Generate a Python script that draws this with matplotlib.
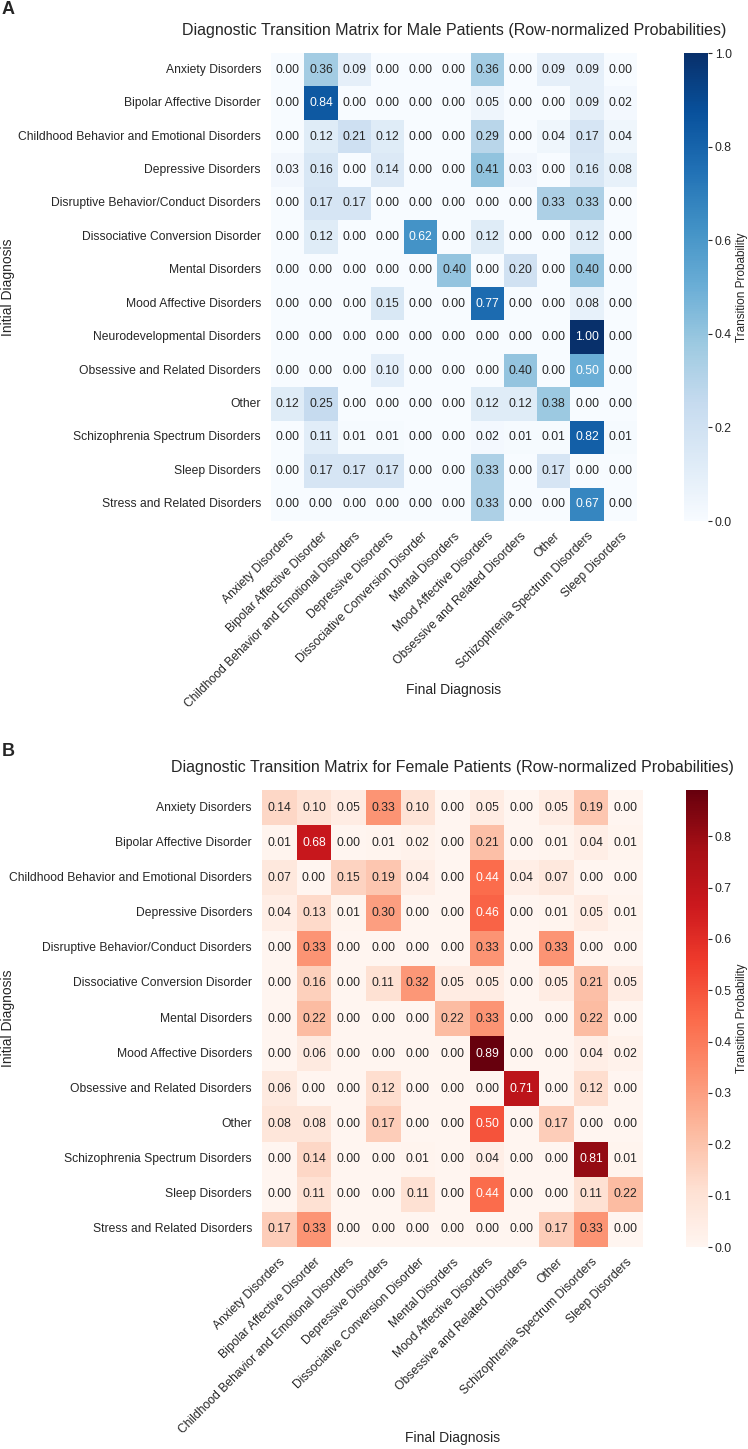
import numpy as np
import matplotlib
matplotlib.use("Agg")
import matplotlib.pyplot as plt
import seaborn as sns

final_labels = ["Anxiety Disorders", "Bipolar Affective Disorder",
                "Childhood Behavior and Emotional Disorders", "Depressive Disorders",
                "Dissociative Conversion Disorder", "Mental Disorders",
                "Mood Affective Disorders", "Obsessive and Related Disorders",
                "Other", "Schizophrenia Spectrum Disorders", "Sleep Disorders"]

male_rows = ["Anxiety Disorders", "Bipolar Affective Disorder",
             "Childhood Behavior and Emotional Disorders", "Depressive Disorders",
             "Disruptive Behavior/Conduct Disorders", "Dissociative Conversion Disorder",
             "Mental Disorders", "Mood Affective Disorders", "Neurodevelopmental Disorders",
             "Obsessive and Related Disorders", "Other", "Schizophrenia Spectrum Disorders",
             "Sleep Disorders", "Stress and Related Disorders"]

male_values = [
    [0.00, 0.36, 0.09, 0.00, 0.00, 0.00, 0.36, 0.00, 0.09, 0.09, 0.00],
    [0.00, 0.84, 0.00, 0.00, 0.00, 0.00, 0.05, 0.00, 0.00, 0.09, 0.02],
    [0.00, 0.12, 0.21, 0.12, 0.00, 0.00, 0.29, 0.00, 0.04, 0.17, 0.04],
    [0.03, 0.16, 0.00, 0.14, 0.00, 0.00, 0.41, 0.03, 0.00, 0.16, 0.08],
    [0.00, 0.17, 0.17, 0.00, 0.00, 0.00, 0.00, 0.00, 0.33, 0.33, 0.00],
    [0.00, 0.12, 0.00, 0.00, 0.62, 0.00, 0.12, 0.00, 0.00, 0.12, 0.00],
    [0.00, 0.00, 0.00, 0.00, 0.00, 0.40, 0.00, 0.20, 0.00, 0.40, 0.00],
    [0.00, 0.00, 0.00, 0.15, 0.00, 0.00, 0.77, 0.00, 0.00, 0.08, 0.00],
    [0.00, 0.00, 0.00, 0.00, 0.00, 0.00, 0.00, 0.00, 0.00, 1.00, 0.00],
    [0.00, 0.00, 0.00, 0.10, 0.00, 0.00, 0.00, 0.40, 0.00, 0.50, 0.00],
    [0.12, 0.25, 0.00, 0.00, 0.00, 0.00, 0.12, 0.12, 0.38, 0.00, 0.00],
    [0.00, 0.11, 0.01, 0.01, 0.00, 0.00, 0.02, 0.01, 0.01, 0.82, 0.01],
    [0.00, 0.17, 0.17, 0.17, 0.00, 0.00, 0.33, 0.00, 0.17, 0.00, 0.00],
    [0.00, 0.00, 0.00, 0.00, 0.00, 0.00, 0.33, 0.00, 0.00, 0.67, 0.00],
]

female_rows = ["Anxiety Disorders", "Bipolar Affective Disorder",
               "Childhood Behavior and Emotional Disorders", "Depressive Disorders",
               "Disruptive Behavior/Conduct Disorders", "Dissociative Conversion Disorder",
               "Mental Disorders", "Mood Affective Disorders",
               "Obsessive and Related Disorders", "Other", "Schizophrenia Spectrum Disorders",
               "Sleep Disorders", "Stress and Related Disorders"]

female_values = [
    [0.14, 0.10, 0.05, 0.33, 0.10, 0.00, 0.05, 0.00, 0.05, 0.19, 0.00],
    [0.01, 0.68, 0.00, 0.01, 0.02, 0.00, 0.21, 0.00, 0.01, 0.04, 0.01],
    [0.07, 0.00, 0.15, 0.19, 0.04, 0.00, 0.44, 0.04, 0.07, 0.00, 0.00],
    [0.04, 0.13, 0.01, 0.30, 0.00, 0.00, 0.46, 0.00, 0.01, 0.05, 0.01],
    [0.00, 0.33, 0.00, 0.00, 0.00, 0.00, 0.33, 0.00, 0.33, 0.00, 0.00],
    [0.00, 0.16, 0.00, 0.11, 0.32, 0.05, 0.05, 0.00, 0.05, 0.21, 0.05],
    [0.00, 0.22, 0.00, 0.00, 0.00, 0.22, 0.33, 0.00, 0.00, 0.22, 0.00],
    [0.00, 0.06, 0.00, 0.00, 0.00, 0.00, 0.89, 0.00, 0.00, 0.04, 0.02],
    [0.06, 0.00, 0.00, 0.12, 0.00, 0.00, 0.00, 0.71, 0.00, 0.12, 0.00],
    [0.08, 0.08, 0.00, 0.17, 0.00, 0.00, 0.50, 0.00, 0.17, 0.00, 0.00],
    [0.00, 0.14, 0.00, 0.00, 0.01, 0.00, 0.04, 0.00, 0.00, 0.81, 0.01],
    [0.00, 0.11, 0.00, 0.00, 0.11, 0.00, 0.44, 0.00, 0.00, 0.11, 0.22],
    [0.17, 0.33, 0.00, 0.00, 0.00, 0.00, 0.00, 0.00, 0.17, 0.33, 0.00],
]

sns.set_theme(style="white")
plt.rcParams['font.family'] = ['Liberation Sans', 'DejaVu Sans']
plt.rcParams['text.color'] = '#262626'
plt.rcParams['axes.labelcolor'] = '#262626'
plt.rcParams['xtick.color'] = '#262626'
plt.rcParams['ytick.color'] = '#262626'

W, H = 748, 1449
fig = plt.figure(figsize=(W / 100, H / 100), dpi=100)

FS = 8.7


def fx(px):
    return px / W


def fy(py):
    return 1 - py / H


def panel(values, rows, cmap, box, cbox, title, letter, letter_y, xlabel_top):
    l, t, r, b = box
    ax = fig.add_axes([fx(l), fy(b), fx(r) - fx(l), fy(t) - fy(b)])
    cl, ct, cr, cb = cbox
    cax = fig.add_axes([fx(cl), fy(cb), fx(cr) - fx(cl), fy(ct) - fy(cb)])
    data = np.array(values)
    sns.heatmap(data, ax=ax, cbar_ax=cax, cmap=cmap, annot=True, fmt=".2f",
                annot_kws={"size": FS}, xticklabels=final_labels, yticklabels=rows,
                vmin=0)
    ax.set_aspect('auto')
    ax.set_xticklabels(final_labels, rotation=45, ha='right', rotation_mode='anchor', fontsize=FS)
    ax.set_yticklabels(rows, rotation=0, fontsize=FS)
    ax.tick_params(axis='y', length=0, pad=7.2)
    ax.tick_params(axis='x', length=0, pad=6.5)
    ax.set_title(title, fontsize=11.5, pad=13)
    ax.set_xlabel("Final Diagnosis", fontsize=10)
    ax.set_ylabel("Initial Diagnosis", fontsize=10)
    ax.yaxis.set_label_coords(-(l - 15) / (r - l), 0.5)
    ax.xaxis.set_label_coords(0.5, -(xlabel_top - b) / (b - t))
    cax.tick_params(labelsize=FS, length=3, width=0.8, pad=2, color='#262626',
                    left=False, right=True)
    cax.set_ylabel("Transition Probability", fontsize=8.5, labelpad=3)
    fig.text(fx(2), fy(letter_y), letter, fontsize=13, fontweight='bold', va='center', ha='left')
    return ax


panel(male_values, male_rows, "Blues", (271, 53, 637, 521), (684, 53, 708, 521),
      "Diagnostic Transition Matrix for Male Patients (Row-normalized Probabilities)", "A", 10, 683)
panel(female_values, female_rows, "Reds", (262, 790, 643, 1247), (686, 790, 708, 1247),
      "Diagnostic Transition Matrix for Female Patients (Row-normalized Probabilities)", "B", 752, 1431)

fig.savefig("out.png", dpi=100)
